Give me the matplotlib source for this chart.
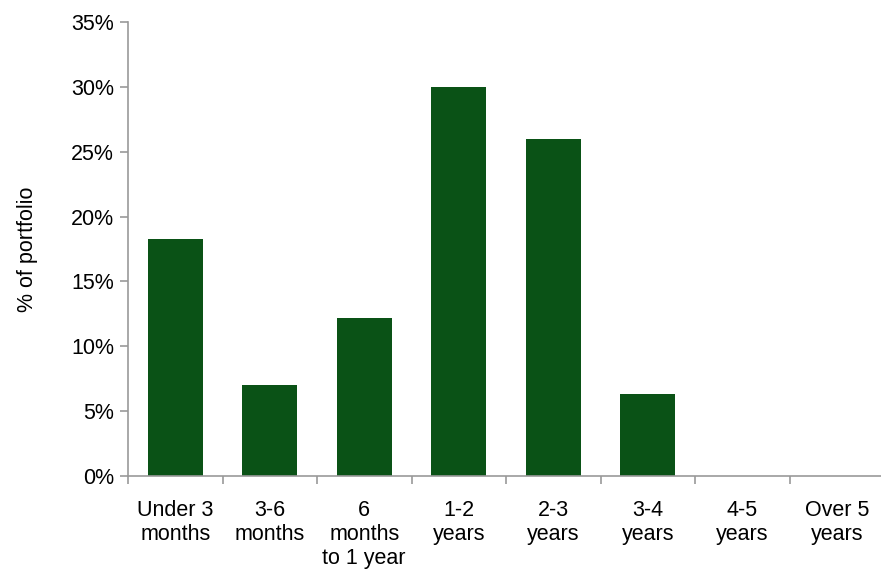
import numpy as np
import matplotlib.pyplot as plt
from matplotlib.ticker import FixedLocator, NullFormatter

categories = ["Under 3\nmonths", "3-6\nmonths", "6\nmonths\nto 1 year", "1-2\nyears",
              "2-3\nyears", "3-4\nyears", "4-5\nyears", "Over 5\nyears"]
values = [18.3, 7.0, 12.2, 30.0, 26.0, 6.3, 0.0, 0.0]
yticks = [0, 5, 10, 15, 20, 25, 30, 35]

plt.rcParams['font.family'] = ['Liberation Sans', 'DejaVu Sans']
fs = 15.5

fig = plt.figure(figsize=(8.81, 5.74), dpi=100)
W, H = 881, 574
ax = fig.add_axes([128 / W, (H - 476) / H, (884 - 128) / W, (476 - 22) / H])

x = np.arange(len(categories))
ax.bar(x, values, width=0.58, color='#0a5216', zorder=2)

ax.set_xlim(-0.5, len(categories) - 0.5)
ax.set_ylim(0, 35)
ax.set_yticks(yticks)
ax.set_yticklabels([f"{t}%" for t in yticks], fontsize=fs)
ax.set_ylabel("% of portfolio", fontsize=fs, labelpad=24)

ax.set_xticks(x)
ax.set_xticklabels(categories, fontsize=fs, linespacing=1.2)
ax.tick_params(axis='x', which='major', length=0, pad=17)
ax.xaxis.set_minor_locator(FixedLocator(np.arange(-0.5, len(categories), 1.0)))
ax.xaxis.set_minor_formatter(NullFormatter())
ax.tick_params(axis='x', which='minor', length=6, color='#999999', width=1.2, direction='out')
ax.tick_params(axis='y', length=6, color='#999999', width=1.2, direction='out', pad=4)

for side in ['top', 'right']:
    ax.spines[side].set_visible(False)
for side in ['left', 'bottom']:
    ax.spines[side].set_color('#999999')
    ax.spines[side].set_linewidth(1.2)

fig.savefig("out.png", dpi=100)
